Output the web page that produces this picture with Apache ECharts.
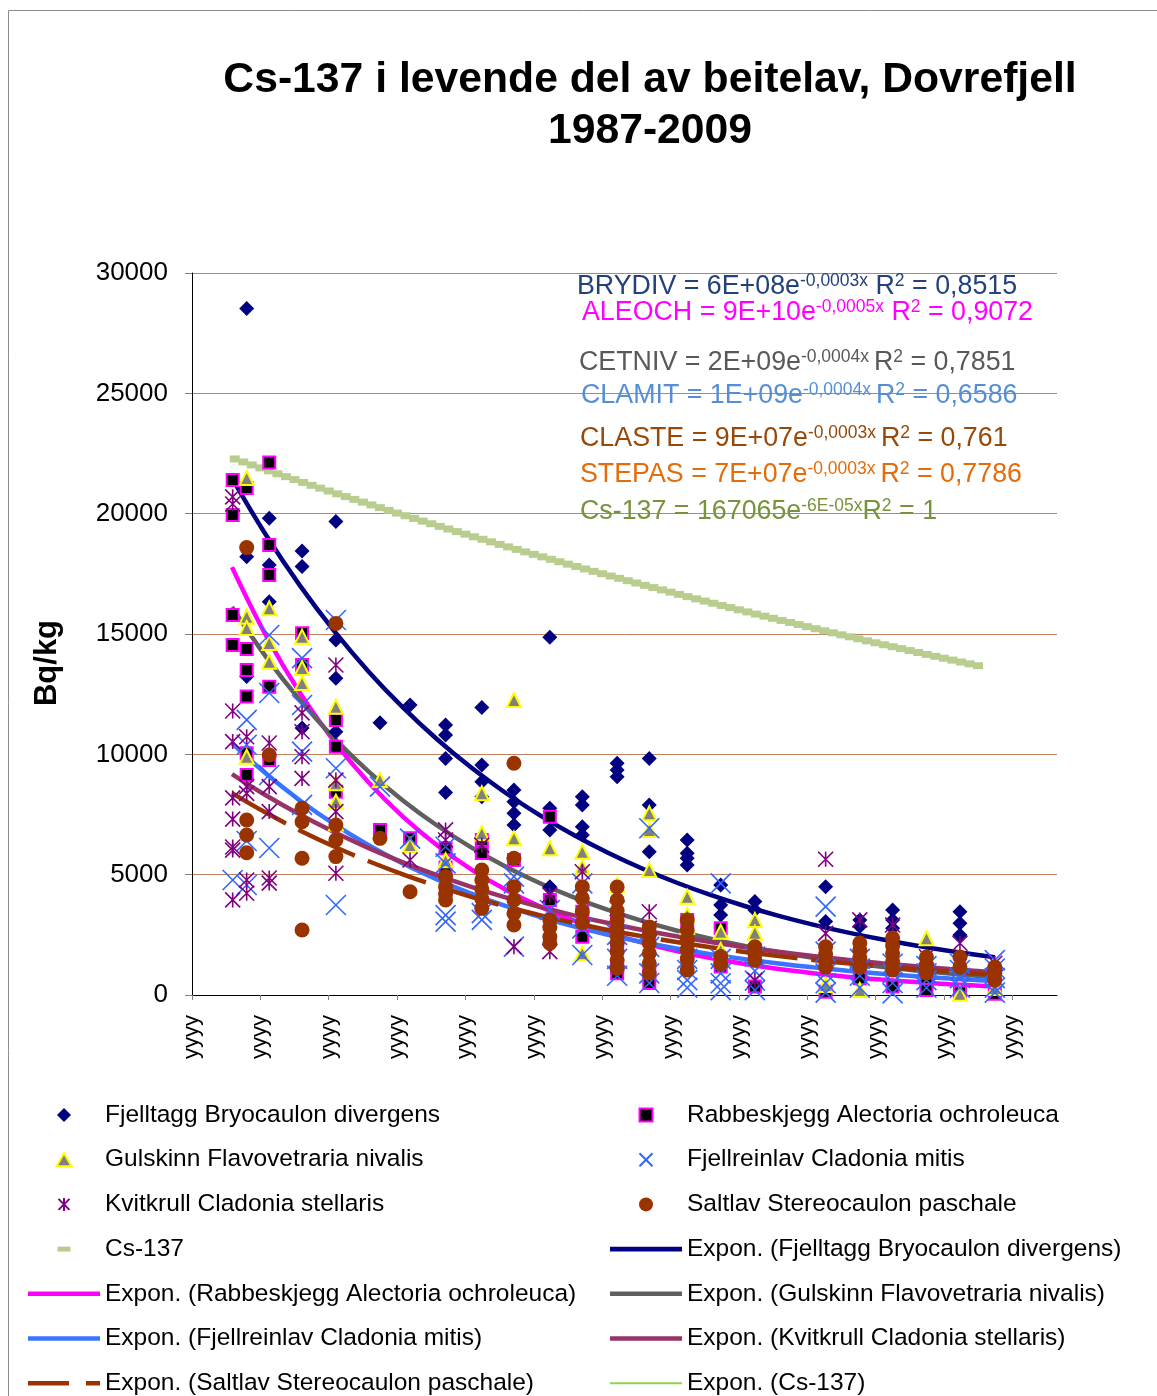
<!DOCTYPE html>
<html>
<head>
<meta charset="utf-8">
<script src="https://cdn.jsdelivr.net/npm/echarts@6/dist/echarts.min.js"></script>
<style>
html,body{margin:0;padding:0;background:#fff;}
#chart{width:1157px;height:1396px;}
</style>
</head>
<body>
<div id="chart"></div>
<script>
// ---------------- DATA ----------------
// [decimal year, Bq/kg]
const fjelltagg = [
 [1987.60,28530],[1987.60,18210],[1987.60,13230],
 [1988.26,19810],[1988.26,17870],[1988.26,16340],
 [1989.22,18450],[1989.22,17800],[1989.22,11090],
 [1990.21,19670],[1990.21,14750],[1990.21,13160],[1990.21,10940],
 [1991.50,11310],
 [1992.38,12050],
 [1993.42,11220],[1993.42,10800],[1993.42,9830],[1993.42,8410],
 [1994.48,11950],[1994.48,9560],[1994.48,8860],[1994.48,8240],
 [1995.42,8520],[1995.42,8030],[1995.42,7550],[1995.42,7060],
 [1996.47,14860],[1996.47,7760],[1996.47,6860],[1996.47,4500],
 [1997.42,8240],[1997.42,7890],[1997.42,6990],[1997.42,6650],
 [1998.44,9630],[1998.44,9350],[1998.44,9070],
 [1999.38,9830],[1999.38,7890],[1999.38,5950],
 [2000.49,6440],[2000.49,5890],[2000.49,5680],[2000.49,5400],
 [2001.47,4570],[2001.47,3740],[2001.47,3320],
 [2002.47,3880],[2002.47,3530],
 [2004.54,4500],[2004.54,3050],
 [2005.54,3120],[2005.54,2850],
 [2006.50,3530],[2006.50,3120],[2006.50,2770],
 [2008.47,3460],[2008.47,2980],[2008.47,2490],
 [2009.49,1100]
];
const rabbeskjegg = [
 [1987.19,21400],[1987.19,19940],[1987.19,15790],[1987.19,14540],
 [1987.60,21070],[1987.60,14380],[1987.60,13500],[1987.60,12400],[1987.60,10050],[1987.60,9140],
 [1988.26,22130],[1988.26,18700],[1988.26,17450],[1988.26,12810],[1988.26,9760],
 [1989.22,15030],[1989.22,13710],
 [1990.21,11430],[1990.21,10320],[1990.21,8450],
 [1991.50,6860],
 [1992.38,6510],
 [1993.42,6100],[1993.42,5300],
 [1994.48,6440],[1994.48,5900],
 [1995.42,5610],
 [1996.47,7410],[1996.47,3950],
 [1997.42,3460],[1997.42,2420],
 [1998.44,3120],[1998.44,2000],[1998.44,1180],[1998.44,900],
 [1999.38,900],[1999.38,500],
 [2000.49,3120],
 [2001.47,2770],[2001.47,1180],
 [2002.47,1870],[2002.47,350],
 [2004.54,140],
 [2005.54,700],
 [2006.50,350],
 [2007.49,600],[2007.49,210],
 [2008.47,100],
 [2009.49,50]
];
const gulskinn = [
 [1987.60,21480],[1987.60,15720],[1987.60,15250],[1987.60,9900],
 [1988.26,16070],[1988.26,14630],[1988.26,13850],
 [1989.22,14890],[1989.22,13590],[1989.22,12960],
 [1990.21,11980],[1990.21,8800],[1990.21,8030],[1990.21,7130],
 [1991.50,8930],
 [1992.38,6230],
 [1993.42,5600],
 [1994.48,8380],[1994.48,6720],
 [1995.42,12260],[1995.42,6510],
 [1996.47,6100],
 [1997.42,5950],[1997.42,5330],[1997.42,1730],
 [1998.44,4570],
 [1999.38,7550],[1999.38,6860],[1999.38,5190],
 [2000.49,4080],[2000.49,3320],[2000.49,2840],
 [2001.47,2630],[2001.47,1870],
 [2002.47,3120],[2002.47,2590],
 [2004.54,420],
 [2005.54,210],
 [2007.49,2360],
 [2008.47,50],
 [2009.49,290]
];
const fjellreinlav = [
 [1987.19,4780],
 [1987.60,11430],[1987.60,10400],[1987.60,6400],[1987.60,4570],
 [1988.26,14960],[1988.26,12550],[1988.26,9140],[1988.26,6110],
 [1989.22,14000],[1989.22,12050],[1989.22,10110],[1989.22,7900],
 [1990.21,15580],[1990.21,9420],[1990.21,3740],
 [1991.50,8660],
 [1992.38,6500],
 [1993.42,6160],[1993.42,5470],[1993.42,3320],[1993.42,3050],
 [1994.48,3400],[1994.48,3120],
 [1995.42,4920],[1995.42,4640],[1995.42,2010],
 [1996.47,3530],
 [1997.42,4640],[1997.42,2770],[1997.42,1660],
 [1998.44,2500],[1998.44,1500],[1998.44,800],
 [1999.38,6930],[1999.38,2000],[1999.38,900],[1999.38,500],
 [2000.49,1500],[2000.49,1040],[2000.49,620],[2000.49,300],
 [2001.47,4640],[2001.47,1500],[2001.47,900],[2001.47,490],[2001.47,200],
 [2002.47,1600],[2002.47,1000],[2002.47,600],[2002.47,200],
 [2004.54,3670],[2004.54,1800],[2004.54,900],[2004.54,490],[2004.54,100],
 [2005.54,1500],[2005.54,1100],[2005.54,800],[2005.54,300],
 [2006.50,1300],[2006.50,900],[2006.50,500],[2006.50,70],
 [2007.49,1200],[2007.49,900],[2007.49,620],[2007.49,300],
 [2008.47,1300],[2008.47,1040],[2008.47,700],[2008.47,300],
 [2009.49,1450],[2009.49,1100],[2009.49,700],[2009.49,300],[2009.49,100]
];
const kvitkrull = [
 [1987.19,20700],[1987.19,20400],[1987.19,11800],[1987.19,10530],[1987.19,8190],[1987.19,7310],[1987.19,6150],[1987.19,6020],[1987.19,3950],
 [1987.60,10730],[1987.60,8660],[1987.60,8380],[1987.60,4780],[1987.60,4230],
 [1988.26,10470],[1988.26,8660],[1988.26,7620],[1988.26,4860],[1988.26,4650],
 [1989.22,11720],[1989.22,10940],[1989.22,9900],[1989.22,9000],
 [1990.21,13710],[1990.21,8930],[1990.21,7620],[1990.21,5060],
 [1992.38,5610],
 [1993.42,6860],[1993.42,6440],
 [1994.48,6230],
 [1995.42,2010],
 [1996.47,4160],[1996.47,1800],
 [1997.42,5120],
 [1998.44,3600],
 [1999.38,3460],[1999.38,2770],
 [2002.47,620],
 [2004.54,5640],[2004.54,2560],
 [2005.54,3120],
 [2006.50,2910],
 [2007.49,1590],
 [2008.47,2150],
 [2009.49,1320]
];
const saltlav = [
 [1987.60,18590],[1987.60,7270],[1987.60,6650],[1987.60,5910],
 [1988.26,9970],
 [1989.22,7760],[1989.22,7200],[1989.22,5680],[1989.22,2700],
 [1990.21,15440],[1990.21,7060],[1990.21,6440],[1990.21,5750],
 [1991.50,6510],
 [1992.38,4290],
 [1993.42,4920],[1993.42,4500],[1993.42,4200],[1993.42,3950],
 [1994.48,5190],[1994.48,4780],[1994.48,4400],[1994.48,4000],[1994.48,3600],
 [1995.42,9630],[1995.42,5680],[1995.42,4500],[1995.42,3950],[1995.42,3390],[1995.42,2910],
 [1996.47,3120],[1996.47,2800],[1996.47,2420],[1996.47,2150],
 [1997.42,4500],[1997.42,4020],[1997.42,3460],[1997.42,3000],
 [1998.44,4490],[1998.44,3950],[1998.44,3500],[1998.44,3100],[1998.44,2770],[1998.44,2450],[1998.44,2150],[1998.44,1800],[1998.44,1450],[1998.44,1100],
 [1999.38,2830],[1999.38,2500],[1999.38,2150],[1999.38,1730],[1999.38,1320],[1999.38,910],
 [2000.49,3120],[2000.49,2700],[2000.49,2290],[2000.49,1900],[2000.49,1500],[2000.49,1040],
 [2001.47,1600],[2001.47,1300],
 [2002.47,2000],[2002.47,1730],[2002.47,1450],
 [2004.54,2000],[2004.54,1700],[2004.54,1400],[2004.54,1160],
 [2005.54,2160],[2005.54,1850],[2005.54,1550],[2005.54,1160],
 [2006.50,2370],[2006.50,2050],[2006.50,1730],[2006.50,1400],[2006.50,1040],
 [2007.49,1580],[2007.49,1250],[2007.49,910],
 [2008.47,1580],[2008.47,1160],
 [2009.49,1160],[2009.49,900],[2009.49,620]
];

// Cs-137 reference series (quarterly markers)
const csYears = [
 1987.25,1987.5,1987.75,1988.0, 1988.25,1988.5,1988.75,1989.0, 1989.25,1989.5,1989.75,1990.0,
 1990.25,1990.5,1990.75,1991.0, 1991.25,1991.5,1991.75,1992.0, 1992.25,1992.5,1992.75,1993.0,
 1993.25,1993.5,1993.75,1994.0, 1994.25,1994.5,1994.75,1995.0, 1995.25,1995.5,1995.75,1996.0,
 1996.25,1996.5,1996.75,1997.0, 1997.25,1997.5,1997.75,1998.0, 1998.25,1998.5,1998.75,1999.0,
 1999.25,1999.5,1999.75,2000.0, 2000.25,2000.5,2000.75,2001.0, 2001.25,2001.5,2001.75,2002.0,
 2002.25,2002.5,2002.75,2003.0, 2003.25,2003.5,2003.75,2004.0, 2004.25,2004.5,2004.75,2005.0,
 2005.25,2005.5,2005.75,2006.0, 2006.25,2006.5,2006.75,2007.0, 2007.25,2007.5,2007.75,2008.0,
 2008.25,2008.5,2008.75,2009.0
];
const csValues = [
 22273,22149,22025,21902, 21780,21658,21537,21417, 21297,21178,21060,20942,
 20825,20709,20593,20478, 20364,20250,20137,20025, 19913,19802,19691,19581,
 19472,19363,19255,19148, 19041,18935,18829,18724, 18619,18515,18412,18309,
 18206,18104,18003,17903, 17803,17704,17605,17506, 17409,17312,17215,17119,
 17023,16928,16833,16739, 16646,16553,16461,16369, 16277,16186,16096,16006,
 15917,15828,15740,15652, 15564,15477,15391,15305, 15219,15134,15050,14965,
 14882,14799,14716,14634, 14553,14472,14391,14311, 14230,14151,14072,13993,
 13915,13837,13760,13683
];

// Exponential trend lines
const trendYears = [1987.17,1988.17,1989.17,1990.17,1991.17,1992.17,1993.17,1994.17,1995.17,1996.17,
 1997.17,1998.17,1999.17,2000.17,2001.17,2002.17,2003.17,2004.17,2005.17,2006.17,2007.17,2008.17,2009.17,2009.49];
const trendFjelltagg   = [21480,19103,16988,15108,13436,11949,10626,9450,8404,7474,6647,5911,5257,4675,4158,3698,3288,2924,2601,2313,2057,1829,1627,1567];
const trendRabbeskjegg = [17780,14926,12529,10518,8829,7412,6222,5223,4385,3681,3090,2594,2177,1828,1534,1288,1081,908,762,640,537,451,378,358];
const trendGulskinn    = [16120,14042,12232,10655,9282,8085,7043,6135,5344,4656,4056,3533,3077,2681,2335,2034,1772,1544,1345,1171,1020,889,774,741];
const trendFjellreinlav= [10470,9194,8073,7089,6225,5466,4800,4215,3701,3250,2854,2506,2200,1932,1697,1490,1308,1149,1009,886,778,683,600,575];
const trendKvitkrull   = [9180,8290,7486,6760,6104,5513,4978,4495,4059,3666,3310,2989,2699,2438,2201,1988,1795,1621,1464,1322,1194,1078,973,942];
const trendSaltlav     = [8390,7569,6828,6160,5557,5013,4522,4080,3681,3320,2995,2702,2438,2199,1984,1790,1615,1456,1314,1185,1069,965,870,842];
const csTrendYears = [1987.17,1988.17,1989.17,1990.17,1991.17,1992.17,1993.17,1994.17,1995.17,1996.17,
 1997.17,1998.17,1999.17,2000.17,2001.17,2002.17,2003.17,2004.17,2005.17,2006.17,2007.17,2008.17,2008.9];
const csTrendValues = [22313,21819,21335,20863,20401,19949,19507,19075,18652,18239,17835,17440,17054,16676,16307,15945,15592,15247,14909,14579,14256,13940,13714];

// Axis ticks / labels
const yTicks = [0,5000,10000,15000,20000,25000,30000];
const xTickLabel = 'yyyy';

// Trend-line equation labels [main, sup, main, sup, main]
const equations = [
 ['BRYDIV = 6E+08e','-0,0003x',' R','2',' = 0,8515'],
 ['ALEOCH = 9E+10e','-0,0005x',' R','2',' = 0,9072'],
 ['CETNIV = 2E+09e','-0,0004x ','R','2',' = 0,7851'],
 ['CLAMIT = 1E+09e','-0,0004x ','R','2',' = 0,6586'],
 ['CLASTE = 9E+07e','-0,0003x ','R','2',' = 0,761'],
 ['STEPAS = 7E+07e','-0,0003x ','R','2',' = 0,7786'],
 ['Cs-137 = 167065e','-6E-05x','R','2',' = 1']
];

// ---------------- CHART ----------------
const FONT = '"Liberation Sans", Arial, Helvetica, sans-serif';
const pairs = (xs, ys) => xs.map((x, i) => [x, ys[i]]);
const XPATH = 'path://M0,0L10,10M10,0L0,10';
const STARPATH = 'path://M0,0L10,10M10,0L0,10M5,0L5,10';

// legend icons, all in a 72 x 14 box
const BOX = 'path://M0,0M72,14';
const IC = {
  diamond: BOX + 'M36,0L43,7L36,14L29,7Z',
  square: BOX + 'M29.5,0.5L42.5,0.5L42.5,13.5L29.5,13.5Z',
  triangle: BOX + 'M36,0.5L43.5,13.5L28.5,13.5Z',
  cross: BOX + 'M29.5,0.5L42.5,13.5M42.5,0.5L29.5,13.5',
  star: BOX + 'M30.5,1.5L41.5,12.5M41.5,1.5L30.5,12.5M36,0.5L36,13.5',
  circle: BOX + 'M43.5,7A7.5,7.5,0,1,1,28.5,7A7.5,7.5,0,1,1,43.5,7Z',
  dash: BOX + 'M29.5,4.5L42.5,4.5L42.5,9.5L29.5,9.5Z',
  line: BOX + 'M0,4.7L72,4.7L72,9.3L0,9.3Z',
  dashed: BOX + 'M0,4.7L41,4.7L41,9.3L0,9.3ZM58,4.7L72,4.7L72,9.3L58,9.3Z',
  thin: BOX + 'M0,6L72,6L72,8L0,8Z'
};

const N = {
  fj: 'Fjelltagg Bryocaulon divergens',
  ra: 'Rabbeskjegg Alectoria ochroleuca',
  gu: 'Gulskinn Flavovetraria nivalis',
  fr: 'Fjellreinlav Cladonia mitis',
  kv: 'Kvitkrull Cladonia stellaris',
  sa: 'Saltlav Stereocaulon paschale',
  cs: 'Cs-137'
};
const ex = n => 'Expon. (' + n + ')';

function scatter(name, data, symbol, size, itemStyle) {
  return {name, type: 'scatter', data, symbol, symbolSize: size,
    itemStyle: Object.assign({opacity: 1}, itemStyle), silent: true, z: 2};
}
function trend(name, ys, color, width, type, xs) {
  return {name, type: 'line', data: pairs(xs || trendYears, ys), symbol: 'none', showSymbol: false,
    smooth: 0.4, silent: true, z: 2,
    lineStyle: {color, width, type: type || 'solid', cap: 'butt', opacity: 1}, itemStyle: {color, borderWidth: 0}};
}

const series = [
  scatter(N.cs, pairs(csYears, csValues), 'rect', [10, 7], {color: '#b8cd8e'}),
  trend(ex(N.cs), csTrendValues, '#92d050', 1.5, 'solid', csTrendYears),
  scatter(N.fj, fjelltagg, 'diamond', 15, {color: '#000080'}),
  trend(ex(N.fj), trendFjelltagg, '#000080', 4.5),
  scatter(N.ra, rabbeskjegg, 'rect', 12, {color: '#000000', borderColor: '#ff00ff', borderWidth: 2}),
  trend(ex(N.ra), trendRabbeskjegg, '#ff00ff', 4.5),
  scatter(N.gu, gulskinn, 'triangle', 14, {color: '#808080', borderColor: '#ffff00', borderWidth: 2}),
  trend(ex(N.gu), trendGulskinn, '#5f5f5f', 4.5),
  scatter(N.fr, fjellreinlav, XPATH, 20, {color: 'rgba(0,0,0,0)', borderColor: '#3366ff', borderWidth: 1.6}),
  trend(ex(N.fr), trendFjellreinlav, '#3a74ff', 4.5),
  scatter(N.kv, kvitkrull, STARPATH, 15, {color: 'rgba(0,0,0,0)', borderColor: '#800080', borderWidth: 1.6}),
  trend(ex(N.kv), trendKvitkrull, '#993366', 4.5),
  scatter(N.sa, saltlav, 'circle', 15, {color: '#993300'}),
  trend(ex(N.sa), trendSaltlav, '#993300', 4.5, [62, 14])
];

const noBorder = {borderWidth: 0};
const legendCommon = {
  orient: 'vertical', itemWidth: 72, itemHeight: 14, itemGap: 19.7, selectedMode: false,
  top: 1102.5, height: 340, padding: 0,
  textStyle: {fontSize: 24.5, lineHeight: 24, color: '#000', fontFamily: FONT}
};
const legends = [
  Object.assign({}, legendCommon, {left: 27, data: [
    {name: N.fj, icon: IC.diamond},
    {name: N.gu, icon: IC.triangle},
    {name: N.kv, icon: IC.star},
    {name: N.cs, icon: IC.dash},
    {name: ex(N.ra), icon: IC.line, itemStyle: noBorder},
    {name: ex(N.fr), icon: IC.line, itemStyle: noBorder},
    {name: ex(N.sa), icon: IC.dashed, itemStyle: noBorder}
  ]}),
  Object.assign({}, legendCommon, {left: 609, data: [
    {name: N.ra, icon: IC.square},
    {name: N.fr, icon: IC.cross},
    {name: N.sa, icon: IC.circle},
    {name: ex(N.fj), icon: IC.line, itemStyle: noBorder},
    {name: ex(N.gu), icon: IC.line, itemStyle: noBorder},
    {name: ex(N.kv), icon: IC.line, itemStyle: noBorder},
    {name: ex(N.cs), icon: IC.thin, itemStyle: noBorder}
  ]})
];

const eqStyle = [
  {color: '#24427a', x: 577, y: 287},
  {color: '#ff00ff', x: 582, y: 313},
  {color: '#595959', x: 579, y: 363},
  {color: '#558ed5', x: 581, y: 396},
  {color: '#984807', x: 580, y: 439},
  {color: '#e46c0a', x: 580, y: 475},
  {color: '#77933c', x: 580, y: 512}
];
const eqGraphics = equations.map((p, i) => ({
  type: 'text', x: eqStyle[i].x, y: eqStyle[i].y, silent: true, z: 10,
  style: {
    text: '{a|' + p[0] + '}{s|' + p[1] + '}{a|' + p[2] + '}{s|' + p[3] + '}{a|' + p[4] + '}',
    fill: eqStyle[i].color, align: 'left', verticalAlign: 'middle',
    rich: {
      a: {fontSize: 26.8, fontFamily: FONT, lineHeight: 30, fill: eqStyle[i].color},
      s: {fontSize: 17.5, fontFamily: FONT, lineHeight: 17, verticalAlign: 'top', fill: eqStyle[i].color}
    }
  }
}));

const option = {
  animation: false,
  backgroundColor: '#ffffff',
  grid: {left: 192, right: 100, top: 273, bottom: 401, containLabel: false},
  xAxis: {
    type: 'value', min: 1986, max: 2011.31, interval: 2,
    axisLine: {show: true, onZero: false, lineStyle: {color: '#000', width: 1}},
    axisTick: {show: true, length: 5, lineStyle: {color: '#808080'}},
    splitLine: {show: false},
    axisLabel: {rotate: 90, margin: 20, fontSize: 22, color: '#000', fontFamily: FONT,
      showMaxLabel: false, formatter: () => xTickLabel}
  },
  yAxis: {
    type: 'value', min: yTicks[0], max: yTicks[yTicks.length - 1], interval: yTicks[1] - yTicks[0],
    axisLine: {show: true, lineStyle: {color: '#000', width: 1}},
    axisTick: {show: true, length: 7, lineStyle: {color: '#808080'}},
    splitLine: {show: true, lineStyle: {color: '#c0825e', width: 1}},
    axisLabel: {fontSize: 26, color: '#000', fontFamily: FONT, margin: 24, formatter: v => String(v)}
  },
  legend: legends,
  graphic: [
    {type: 'rect', silent: true, z: -1, shape: {x: 8.5, y: 10.5, width: 1200, height: 1500},
      style: {fill: 'none', stroke: '#8c8c8c', lineWidth: 1}},
    {type: 'text', silent: true, x: 650, y: 80,
      style: {text: 'Cs-137 i levende del av beitelav, Dovrefjell', font: 'bold 42.7px ' + FONT,
        fill: '#000', align: 'center', verticalAlign: 'middle'}},
    {type: 'text', silent: true, x: 650, y: 131,
      style: {text: '1987-2009', font: 'bold 42.7px ' + FONT, fill: '#000', align: 'center', verticalAlign: 'middle'}},
    {type: 'text', silent: true, x: 47, y: 663, rotation: Math.PI / 2,
      style: {text: 'Bq/kg', font: 'bold 31px ' + FONT, fill: '#000', align: 'center', verticalAlign: 'middle'}}
  ].concat(eqGraphics),
  series
};

const chart = echarts.init(document.getElementById('chart'), null, {renderer: 'canvas', width: 1157, height: 1396});
chart.setOption(option);
</script>
</body>
</html>
